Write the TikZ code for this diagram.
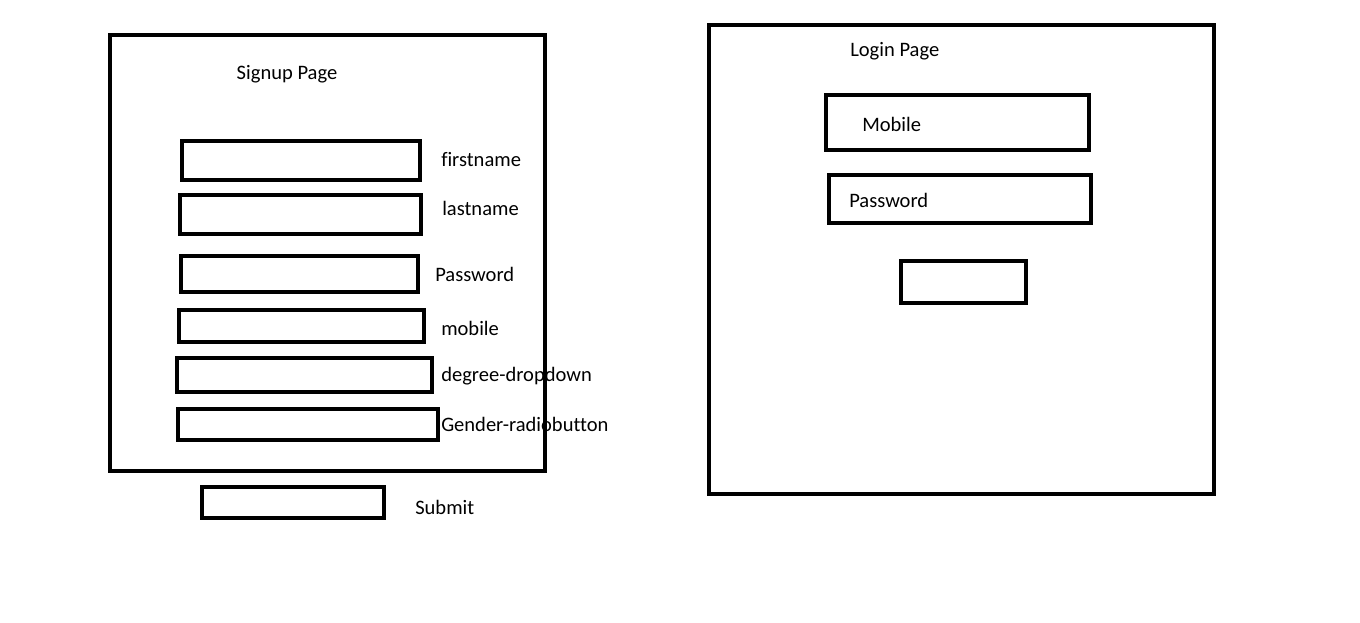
\documentclass[tikz,border=0pt]{standalone}
\usepackage{fontspec}
\setmainfont{Carlito}[Ligatures=CommonOff]
\begin{document}
\begin{tikzpicture}[x=0.75pt,y=-0.75pt]
\tikzstyle{box}=[draw,line width=3.6pt,inner sep=0pt,outer sep=0pt]
\tikzstyle{lbl}=[anchor=west,inner sep=0pt,font=\fontsize{15.4}{18}\selectfont]
\fill[white] (0,0) rectangle (1360,623);
\useasboundingbox (0,0) rectangle (1360,623);

% signup page
\path (327.5,253) node[box,minimum width=326.25pt,minimum height=327pt](s0){};
\path (287,74) node[lbl,anchor=center](t0){Signup Page};
\path (301,160.5) node[box,minimum width=178.5pt,minimum height=29.25pt](s1){};
\path (441,160) node[lbl](t1){firstname};
\path (300.5,214.5) node[box,minimum width=180.75pt,minimum height=29.25pt](s2){};
\path (442,208) node[lbl](t2){lastname};
\path (299.5,274) node[box,minimum width=177.75pt,minimum height=27pt](s3){};
\path (435,274) node[lbl](t3){Password};
\path (301.5,326) node[box,minimum width=183.75pt,minimum height=24pt](s4){};
\path (441,328) node[lbl](t4){mobile};
\path (304.5,375) node[box,minimum width=191.25pt,minimum height=25.5pt](s5){};
\path (441,376) node[lbl](t5){degree-dropdown};
\path (308,424.5) node[box,minimum width=195pt,minimum height=23.25pt](s6){};
\path (441,424) node[lbl](t6){Gender-radiobutton};
\path (293,502.5) node[box,minimum width=136.5pt,minimum height=23.25pt](s7){};
\path (415,507) node[lbl](t7){Submit};

% login page
\path (961.5,259.5) node[box,minimum width=378.75pt,minimum height=351.75pt](l0){};
\path (850,51) node[lbl](u0){Login Page};
\path (957.5,122.5) node[box,minimum width=197.25pt,minimum height=41.25pt](l1){};
\path (862,124) node[lbl](u1){Mobile};
\path (960,199) node[box,minimum width=196.5pt,minimum height=36pt](l2){};
\path (849,200) node[lbl](u2){Password};
\path (963.5,282) node[box,minimum width=93.75pt,minimum height=31.5pt](l3){};
\end{tikzpicture}
\end{document}
